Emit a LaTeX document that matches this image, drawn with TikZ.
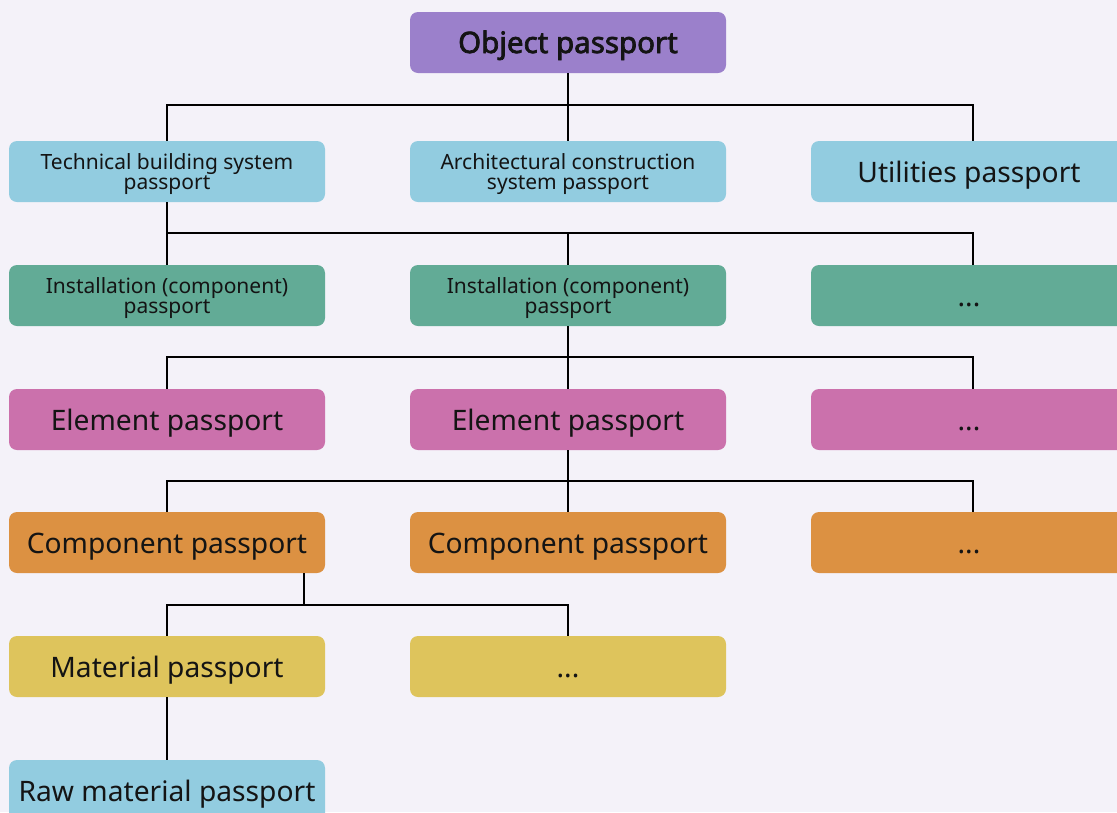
\documentclass[tikz,border=0pt]{standalone}
\usepackage{fontspec}
\setmainfont{Noto Sans}
\newfontfamily\heavyfont{Noto Sans}[FakeBold=2.4]
\definecolor{bg}{HTML}{F4F2F9}
\definecolor{cpurple}{HTML}{9B80CB}
\definecolor{cblue}{HTML}{92CCE0}
\definecolor{cgreen}{HTML}{62AB96}
\definecolor{cpink}{HTML}{CB71AC}
\definecolor{corange}{HTML}{DC9142}
\definecolor{cyellow}{HTML}{DEC45C}
\tikzset{
  pbox/.style={rectangle, rounded corners=8pt, minimum width=316pt, minimum height=61pt,
    inner sep=0pt, align=center, text=black!92, fill=#1},
  big/.style={font=\fontsize{28.2}{30}\selectfont, text height=24pt, text depth=3pt},
  twoline/.style={font=\fontsize{21}{20}\selectfont, align=center, inner sep=0pt,
    text=black!92, yshift=-2.5pt},
  link/.style={draw=black, line width=2.6pt},
}
\begin{document}
\begin{tikzpicture}[x=1pt,y=-1pt]
  \fill[bg] (0,0) rectangle (1117,812);
  \useasboundingbox (0,0) rectangle (1117,812);
  \begin{scope}
  \clip (0,0) rectangle (1117,812);
  % bus levels
  \coordinate (b1) at (0,105);
  \coordinate (b2) at (0,233);
  \coordinate (b3) at (0,357);
  \coordinate (b4) at (0,481);
  \coordinate (b5) at (0,605);
  \coordinate (rc) at (973,0);
  \coordinate (tap) at (304,0);

  % row 1
  \node[pbox=cpurple, font=\heavyfont\fontsize{29.5}{30}\selectfont, text height=24pt, text depth=3pt] (obj) at (568,42.5) {Object passport};
  % row 2
  \node[pbox=cblue, label={[twoline]center:{Technical building system\\passport}}] (tbs) at (167,171.5) {};
  \node[pbox=cblue, label={[twoline]center:{Architectural construction\\system passport}}] (acs) at (568,171.5) {};
  \node[pbox=cblue, big] (util) at (969,171.5) {Utilities passport};
  % row 3
  \node[pbox=cgreen, label={[twoline]center:{Installation (component)\\passport}}] (ins1) at (167,295.5) {};
  \node[pbox=cgreen, label={[twoline]center:{Installation (component)\\passport}}] (ins2) at (568,295.5) {};
  \node[pbox=cgreen, big] (ins3) at (969,295.5) {...};
  % row 4
  \node[pbox=cpink, big] (el1) at (167,419.5) {Element passport};
  \node[pbox=cpink, big] (el2) at (568,419.5) {Element passport};
  \node[pbox=cpink, big] (el3) at (969,419.5) {...};
  % row 5
  \node[pbox=corange, big] (co1) at (167,542.5) {Component passport};
  \node[pbox=corange, big] (co2) at (568,542.5) {Component passport};
  \node[pbox=corange, big] (co3) at (969,542.5) {...};
  % row 6
  \node[pbox=cyellow, big] (ma1) at (167,666.5) {Material passport};
  \node[pbox=cyellow, big] (ma2) at (568,666.5) {...};
  % row 7
  \node[pbox=cblue, big] (raw) at (167,790.5) {Raw material passport};

  % object -> systems
  \draw[link] (obj.south) -- (obj.south |- b1);
  \draw[link] (tbs.north) -- (tbs.north |- b1) -- (rc |- b1) -- (rc |- util.north);
  \draw[link] (acs.north) -- (acs.north |- b1);
  % technical system -> installations
  \draw[link] (tbs.south) -- (ins1.north);
  \draw[link] (tbs.south |- b2) -- (rc |- b2) -- (rc |- ins3.north);
  \draw[link] (ins2.north) -- (ins2.north |- b2);
  % installation -> elements
  \draw[link] (ins2.south) -- (el2.north);
  \draw[link] (el1.north) -- (el1.north |- b3) -- (rc |- b3) -- (rc |- el3.north);
  % element -> components
  \draw[link] (el2.south) -- (co2.north);
  \draw[link] (co1.north) -- (co1.north |- b4) -- (rc |- b4) -- (rc |- co3.north);
  % component -> materials
  \draw[link] (tap |- co1.south) -- (tap |- b5);
  \draw[link] (ma1.north) -- (ma1.north |- b5) -- (ma2.north |- b5) -- (ma2.north);
  % material -> raw material
  \draw[link] (ma1.south) -- (raw.north);
  \end{scope}
\end{tikzpicture}
\end{document}
